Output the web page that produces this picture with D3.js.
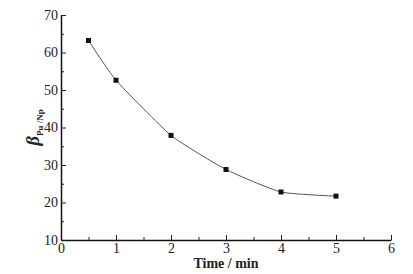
<!DOCTYPE html>
<html lang="en">
<head>
<meta charset="utf-8">
<script src="https://d3js.org/d3.v7.min.js"></script>
<style>
  body { margin: 0; background: #fff; }
  svg text { font-family: "Liberation Serif", "Times New Roman", serif; fill: #222; }
</style>
</head>
<body>
<svg id="chart" width="413" height="274"></svg>
<script>
// data
const times = [0.5, 1, 2, 3, 4, 5];
const beta = [63.2, 52.6, 37.9, 28.8, 22.8, 21.7];
const xTicks = [0, 1, 2, 3, 4, 5, 6];
const yTicks = [10, 20, 30, 40, 50, 60, 70];

const svg = d3.select("#chart");
const margin = {left: 61, top: 15};
const w = 330, h = 225;

const x = d3.scaleLinear().domain([0, 6]).range([0, w]);
const y = d3.scaleLinear().domain([10, 70]).range([h, 0]);

const g = svg.append("g").attr("transform", "translate(" + margin.left + "," + margin.top + ")");

// minor ticks
const xMinor = d3.range(0.5, 6, 1);
const yMinor = d3.range(15, 70, 10);
g.append("g").attr("transform", "translate(0," + h + ")")
  .call(d3.axisBottom(x).tickValues(xMinor).tickSize(-3).tickFormat(""))
  .call(a => a.select(".domain").remove())
  .selectAll("line").attr("stroke", "#222");
g.append("g")
  .call(d3.axisLeft(y).tickValues(yMinor).tickSize(-3).tickFormat(""))
  .call(a => a.select(".domain").remove())
  .selectAll("line").attr("stroke", "#222");

// major axes, ticks inward
const xAxis = g.append("g").attr("transform", "translate(0," + h + ")")
  .call(d3.axisBottom(x).tickValues(xTicks).tickSize(-5).tickPadding(3).tickSizeOuter(0).tickFormat(d3.format("d")));
const yAxis = g.append("g")
  .call(d3.axisLeft(y).tickValues(yTicks).tickSize(-5).tickPadding(3).tickSizeOuter(0).tickFormat(d3.format("d")));

[xAxis, yAxis].forEach(a => {
  a.select(".domain").attr("stroke", "#111").attr("stroke-width", 1.5);
  a.selectAll("line").attr("stroke", "#222");
  a.selectAll("text").attr("font-size", 14).attr("fill", "#222");
});

// line
const pts = times.map((t, i) => [t, beta[i]]);
g.append("path")
  .datum(pts)
  .attr("fill", "none")
  .attr("stroke", "#555")
  .attr("stroke-width", 1)
  .attr("d", d3.line().x(d => x(d[0])).y(d => y(d[1])).curve(d3.curveCardinal.tension(0.5)));

g.selectAll("rect.pt").data(pts).enter().append("rect")
  .attr("class", "pt")
  .attr("x", d => x(d[0]) - 2.5)
  .attr("y", d => y(d[1]) - 2.5)
  .attr("width", 5).attr("height", 5)
  .attr("fill", "#111");

// axis titles
svg.append("text")
  .attr("x", margin.left + w / 2).attr("y", 268)
  .attr("text-anchor", "middle")
  .attr("font-size", 14).attr("font-weight", "bold")
  .text("Time / min");

const yl = svg.append("text")
  .attr("transform", "translate(39," + (margin.top + h / 2) + ") rotate(-90)")
  .attr("text-anchor", "middle");
yl.append("tspan").attr("font-size", 19).attr("font-weight", "bold").attr("font-style", "italic").text("β");
yl.append("tspan").attr("font-size", 9).attr("font-weight", "bold").attr("dy", 4).text("Pu /Np");
</script>
</body>
</html>
